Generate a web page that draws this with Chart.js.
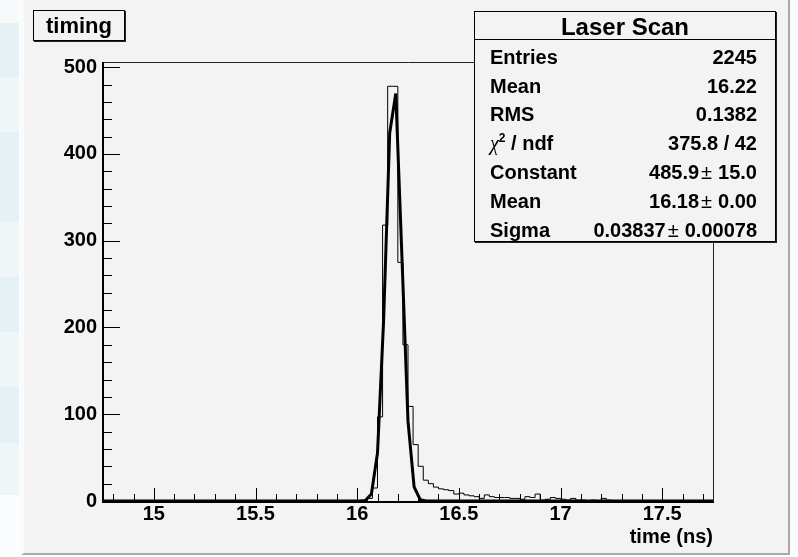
<!DOCTYPE html>
<html>
<head>
<meta charset="utf-8">
<title>timing</title>
<script src="https://cdn.jsdelivr.net/npm/chart.js"></script>
<style>
  html, body { margin: 0; padding: 0; }
  body { width: 798px; height: 557px; position: relative; overflow: hidden; background: #fbfcfd;
         font-family: "Liberation Sans", Arial, Helvetica, sans-serif; color: #000; }
  #strip { position: absolute; left: 0; top: 0; width: 19px; height: 557px;
    background: linear-gradient(to bottom, #f7fafb 0 23px, #e5f1f5 23px 77px, #f0f6f8 77px 132px,
      #e5f1f5 132px 222px, #f0f6f8 222px 277px, #e5f1f5 277px 332px, #f0f6f8 332px 387px,
      #e5f1f5 387px 443px, #f0f6f8 443px 495px, #fbfcfd 495px); }
  #pad { position: absolute; left: 21px; top: 0; width: 769px; height: 555px; box-sizing: border-box;
    background: #f3f3f3; border-left: 3px solid #fafafa; border-right: 2px solid #a8a8a8; border-bottom: 2px solid #a8a8a8; }
  #cv { position: absolute; left: 0; top: 0; }
  .box { position: absolute; box-sizing: border-box; background: #f3f3f3; border: 1px solid #000;
         box-shadow: 1px 1px 0 #222; font-weight: bold; }
  #title { left: 33px; top: 10px; width: 92px; height: 31px; font-size: 22px; line-height: 29px; text-align: center; }
  #stats { left: 474px; top: 11px; width: 302px; height: 231px; }
  #stats .head { height: 27px; border-bottom: 1px solid #000; font-size: 24px; line-height: 29px; text-align: center; }
  #stats .row { position: absolute; left: 15px; right: 18px; height: 28px; line-height: 28px; font-size: 20px;
                display: flex; justify-content: space-between; white-space: nowrap; }
  .pm { font-weight: normal; margin: 0 6px 0 2px; }
  .chi { font-family: "Liberation Serif", serif; font-weight: normal; font-style: italic; }
  sup { font-size: 12px; line-height: 0; vertical-align: 8px; }
</style>
</head>
<body>
<div id="strip"></div>
<div id="pad"></div>
<canvas id="cv" width="798" height="557"></canvas>
<div class="box" id="title">timing</div>
<div class="box" id="stats"><div class="head">Laser Scan</div></div>

<script>
// histogram binning (ns)
const xMin = 14.75, xMax = 17.75;
const binWidth = 0.025;
const firstEdge = 16.05;   // lower edge of first non-empty bin
const counts = [3, 15, 97, 318, 478, 478, 275, 180, 109, 65,
                40, 24, 20, 16, 14, 13, 12,
                8, 9, 7, 6, 5, 3, 7, 5, 4, 4,
                4, 3, 3, 2, 5, 4, 8, 1, 2, 4,
                3, 2, 1, 3, 1, 1, 0, 1, 0, 3,
                1];
const xLabels = [15, 15.5, 16, 16.5, 17, 17.5];
const yLabels = [0, 100, 200, 300, 400, 500];
const yMax = 506;

// stats + gaus fit result
const nEntries = 2245, histMean = 16.22, histRms = 0.1382;
const fitChi2 = 375.8, fitNdf = 42;
const fitConst = 485.9, fitConstErr = 15.0;
const fitMean = 16.18, fitMeanErr = 0.0;
const fitSigma = 0.03837, fitSigmaErr = 0.00078;
const fitNpx = 100;

const FONT = '"Liberation Sans", Arial, Helvetica, sans-serif';

// stats box rows
const pm = (v, e) => v + '<span class="pm">\u00b1</span>' + e;
const statRows = [
  ['Entries', String(nEntries)],
  ['Mean', histMean.toFixed(2)],
  ['RMS', histRms.toFixed(4)],
  ['<span class="chi">\u03c7</span><sup>2</sup> / ndf', fitChi2.toFixed(1) + ' / ' + fitNdf],
  ['Constant', pm(fitConst.toFixed(1), fitConstErr.toFixed(1))],
  ['Mean', pm(fitMean.toFixed(2), fitMeanErr.toFixed(2))],
  ['Sigma', pm(fitSigma.toFixed(5), fitSigmaErr.toFixed(5))],
];
const statsEl = document.getElementById('stats');
statRows.forEach((r, i) => {
  const d = statsEl.appendChild(document.createElement('div'));
  d.className = 'row';
  d.style.top = (30.7 + i * 28.8) + 'px';
  d.innerHTML = `<span>${r[0]}</span><span>${r[1]}</span>`;
});

// histogram outline points (left bin edges, stepped)
const histPts = [{ x: xMin, y: 0 }];
counts.forEach((c, i) => histPts.push({ x: firstEdge + i * binWidth, y: c }));
histPts.push({ x: firstEdge + counts.length * binWidth, y: 0 }, { x: xMax, y: 0 });

// gaus drawn over the axis range with npx samples
const fitPts = [];
for (let k = 0; k <= fitNpx; k++) {
  const x = xMin + (xMax - xMin) * k / fitNpx;
  fitPts.push({ x, y: fitConst * Math.exp(-0.5 * ((x - fitMean) / fitSigma) ** 2) });
}

// frame + inward tick marks
const frameTicks = {
  id: 'frameTicks',
  afterDatasetsDraw(chart) {
    const { ctx, chartArea: a, scales: { x, y } } = chart;
    ctx.save();
    ctx.strokeStyle = '#000';
    ctx.lineWidth = 1;
    ctx.beginPath();
    for (let k = 148; k <= 177; k++) {
      const px = Math.round(x.getPixelForValue(k / 10)) + 0.5;
      const len = k % 5 === 0 ? 13 : 7;
      ctx.moveTo(px, a.bottom); ctx.lineTo(px, a.bottom - len);
    }
    for (let v = 20; v <= 500; v += 20) {
      const py = Math.round(y.getPixelForValue(v)) + 0.5;
      const len = v % 100 === 0 ? 17 : 9;
      ctx.moveTo(a.left, py); ctx.lineTo(a.left + len, py);
    }
    ctx.stroke();
    // top / right frame
    ctx.beginPath();
    ctx.strokeStyle = '#222';
    ctx.moveTo(a.left, a.top + 0.5); ctx.lineTo(a.right + 0.5, a.top + 0.5); ctx.lineTo(a.right + 0.5, a.bottom);
    ctx.stroke();
    // axes
    ctx.beginPath();
    ctx.strokeStyle = '#000';
    ctx.lineWidth = 2;
    ctx.moveTo(a.left, a.top); ctx.lineTo(a.left, a.bottom + 1); ctx.lineTo(a.right + 1, a.bottom + 1);
    ctx.stroke();
    ctx.restore();
  }
};

new Chart(document.getElementById('cv'), {
  type: 'line',
  data: {
    datasets: [
      { label: 'gaus', data: fitPts, borderColor: '#000', borderWidth: 3, pointRadius: 0, tension: 0, fill: false, order: 0 },
      { label: 'timing', data: histPts, borderColor: '#000', borderWidth: 1, pointRadius: 0, stepped: 'before', fill: false, order: 1 },
    ],
  },
  options: {
    responsive: false, animation: false, events: [],
    layout: { padding: { top: 62, right: 85, left: 0, bottom: 0 } },
    plugins: { legend: { display: false }, tooltip: { enabled: false } },
    scales: {
      x: {
        type: 'linear', min: xMin, max: xMax,
        afterBuildTicks: s => { s.ticks = xLabels.map(v => ({ value: v })); },
        afterFit: s => { s.height = 56; },
        grid: { display: false, drawTicks: false }, border: { display: false },
        ticks: { color: '#000', padding: 1, maxRotation: 0, autoSkip: false, callback: v => String(v),
                 font: { family: FONT, size: 20, weight: 'bold' } },
        title: { display: true, text: 'time (ns)', align: 'end', color: '#000',
                 font: { family: FONT, size: 20, weight: 'bold' }, padding: { top: 0, bottom: 8 } },
      },
      y: {
        type: 'linear', min: 0, max: yMax,
        afterBuildTicks: s => { s.ticks = yLabels.map(v => ({ value: v })); },
        afterFit: s => { s.width = 103; },
        grid: { display: false, drawTicks: false }, border: { display: false },
        ticks: { color: '#000', padding: 6, callback: v => String(v),
                 font: { family: FONT, size: 20, weight: 'bold' } },
      },
    },
  },
  plugins: [frameTicks],
});
</script>
</body>
</html>
